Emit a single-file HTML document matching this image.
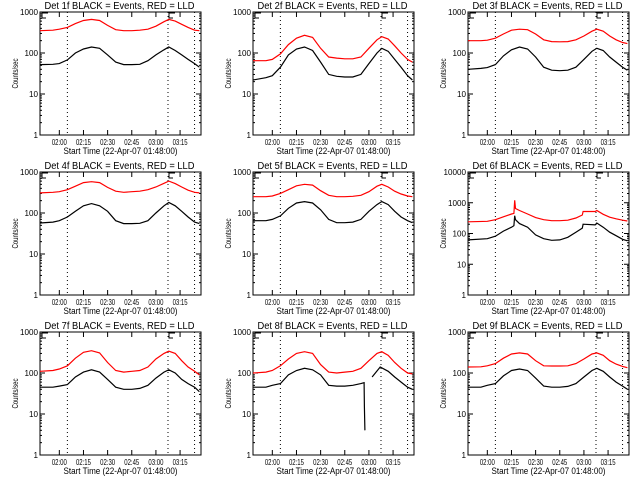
<!DOCTYPE html>
<html><head><meta charset="utf-8"><style>
html,body{margin:0;padding:0;background:#fff;}
svg{display:block;font-family:"Liberation Sans",sans-serif;}
</style></head><body>
<svg id="c" width="640" height="480" viewBox="0 0 640 480"></svg>
<script>
// shared data
const T = [0,8,12,17,22,27,32,37,42,47,52,57,62,67,72,77,80,84,88,92,96,99];
const tickLabels = ["02:00","02:15","02:30","02:45","03:00","03:15"];
const tickMinutes = [12,27,42,57,72,87];
const dottedMinutes = [17,79.5,96];
const panelNames = ["1f","2f","3f","4f","5f","6f","7f","8f","9f"];
const black1 = [52,53,55,68,100,125,140,130,90,60,52,52,53,65,90,120,140,115,90,70,55,45];
const red1 = [350,360,380,420,520,620,660,620,470,370,350,350,360,380,450,580,660,600,500,420,360,350];
const black2 = [22,25,28,45,90,125,140,115,60,30,27,26,26,30,55,100,130,110,70,45,28,22];
const red2 = [65,65,70,95,160,230,270,240,130,80,75,72,72,80,130,210,250,220,150,100,70,60];
const black3 = [40,42,44,52,85,120,140,125,80,45,38,37,38,45,70,110,130,115,80,60,45,38];
const red3 = [200,200,205,230,290,360,380,370,290,210,190,188,190,210,260,340,380,340,260,210,180,170];
const black4 = [57,60,65,80,110,150,170,150,110,65,55,55,56,65,100,150,180,150,110,80,60,55];
const red4 = [310,320,330,370,450,550,580,550,420,340,320,330,340,370,430,530,600,520,430,360,320,310];
const black5 = [65,65,70,85,130,175,190,175,120,70,58,58,60,70,110,160,190,160,110,80,65,58];
const red5 = [250,250,260,300,370,460,500,480,350,270,250,250,255,270,330,450,500,430,340,290,260,250];
const T6 = [0,12,17,22,27,28.5,29,29.5,32,37,42,47,52,57,62,67,71,71.5,79,80,84,88,92,96,99];
const black6 = [62,68,82,120,160,180,380,280,210,160,90,68,60,62,75,110,150,200,190,220,160,110,85,65,58];
const red6 = [240,250,280,350,430,450,1200,650,560,430,330,280,260,260,270,320,400,520,520,560,420,340,300,270,255];
const black7 = [45,45,48,52,80,105,120,105,70,45,40,40,42,50,75,105,120,100,70,55,45,35];
const red7 = [110,115,125,150,230,320,350,310,180,115,105,110,115,140,220,300,340,300,200,140,110,90];
const T8b = [0,8,12,17,22,27,32,37,42,47,52,57,62,67,69,69.2,69.5,70,74,79,84,88,92,96,99];
const black8 = [45,45,50,55,90,115,130,120,90,50,48,48,50,55,58,15,4,null,80,140,110,80,60,45,40];
const red8 = [100,105,115,150,220,300,330,300,160,105,100,105,110,130,200,300,330,270,180,130,100,95];
const black9 = [45,45,50,55,85,115,125,115,75,48,45,45,47,55,80,115,130,110,80,60,48,40];
const red9 = [140,142,150,170,230,290,310,290,200,150,148,148,150,170,220,290,310,270,200,165,145,135];

const panels = [
 {t:T,b:black1,bt:T,r:red1},{t:T,b:black2,bt:T,r:red2},{t:T,b:black3,bt:T,r:red3},
 {t:T,b:black4,bt:T,r:red4},{t:T,b:black5,bt:T,r:red5},{t:T6,b:black6,bt:T6,r:red6,dec:4},
 {t:T,b:black7,bt:T,r:red7},{t:T,b:black8,bt:T8b,r:red8},{t:T,b:black9,bt:T,r:red9}
];
const colX=[[40,201],[253,414],[468,629]];
const rowY=[[12,135],[172,295],[332,455]];
const NS="http://www.w3.org/2000/svg";
const svg=document.getElementById('c');
function mk(tag,attrs,parent){const e=document.createElementNS(NS,tag);for(const k in attrs)e.setAttribute(k,attrs[k]);(parent||svg).appendChild(e);return e;}

panels.forEach((p,i)=>{
  const [x0,x1]=colX[i%3],[y0,y1]=rowY[Math.floor(i/3)];
  const dec=p.dec||3;
  const xs=m=>x0+(m/100)*(x1-x0);
  const ys=v=>y1-(Math.log10(v)/dec)*(y1-y0);
  const g=mk('g',{});
  
  
  const ti=mk('text',{x:(x0+x1)/2-1,y:y0-3,'text-anchor':'middle','font-size':'10',textLength:150,lengthAdjust:'spacingAndGlyphs'},g);
  ti.textContent='Det '+panelNames[i]+' BLACK = Events, RED = LLD';
  
  
  const fr=mk('rect',{x:x0,y:y0,width:x1-x0,height:y1-y0,fill:'none',stroke:'#000','stroke-width':1},g);
  
  
  for(let d=0;d<=dec;d++){
    const v=Math.pow(10,d),y=ys(v);
    mk('line',{x1:x0,x2:x0+5,y1:y,y2:y,stroke:'#000'},g);
    mk('line',{x1:x1-5,x2:x1,y1:y,y2:y,stroke:'#000'},g);
    const s=String(v);
    const tl=mk('text',{x:x0-2,y:y+3,'text-anchor':'end','font-size':'8',textLength:4.5*s.length,lengthAdjust:'spacingAndGlyphs'},g);
    tl.textContent=s;
    
    
    if(d<dec)for(let k=2;k<10;k++){const yy=ys(v*k);
      mk('line',{x1:x0,x2:x0+2,y1:yy,y2:yy,stroke:'#000'},g);
      mk('line',{x1:x1-2,x2:x1,y1:yy,y2:yy,stroke:'#000'},g);}
  }
  tickMinutes.forEach((m,j)=>{
    const x=xs(m);
    mk('line',{x1:x,x2:x,y1:y1,y2:y1-5,stroke:'#000'},g);
    mk('line',{x1:x,x2:x,y1:y0,y2:y0+5,stroke:'#000'},g);
    const tl=mk('text',{x:x,y:y1+10,'text-anchor':'middle','font-size':'8',textLength:15,lengthAdjust:'spacingAndGlyphs'},g);
    tl.textContent=tickLabels[j];
    
    
  });
  dottedMinutes.forEach(m=>{const x=xs(m);
    const dl=mk('line',{x1:x,x2:x,y1:y0,y2:y1,stroke:'#000','stroke-dasharray':'1,3'},g);
    
    });
  [x0+2,xs(dottedMinutes[1])+1].forEach(x=>{
    mk('path',{d:`M${x+6},${y0+1}H${x}V${y0+6}H${x+4}`,fill:'none',stroke:'#000'},g);});
  const xl=mk('text',{x:(x0+x1)/2,y:y1+19,'text-anchor':'middle','font-size':'9',textLength:114,lengthAdjust:'spacingAndGlyphs'},g);
  xl.textContent='Start Time (22-Apr-07 01:48:00)';
  
  
  const yl=mk('text',{x:0,y:0,'text-anchor':'middle','font-size':'8',textLength:30,lengthAdjust:'spacingAndGlyphs',transform:`translate(${x0-22},${(y0+y1)/2}) rotate(-90)`},g);
  yl.textContent='Counts/sec';
  
  
  function path(ts,vs){let d='',pen=false;ts.forEach((m,k)=>{const v=vs[k];if(v==null){pen=false;return;}d+=(pen?'L':'M')+xs(m).toFixed(1)+','+ys(v).toFixed(1);pen=true;});return d;}
  const rl=mk('path',{d:path(p.t,p.r),fill:'none',stroke:'#f00','stroke-width':1.2},g);
  
  
  const bl=mk('path',{d:path(p.bt,p.b),fill:'none',stroke:'#000','stroke-width':1.2},g);
  
  
});
</script>
</body></html>
